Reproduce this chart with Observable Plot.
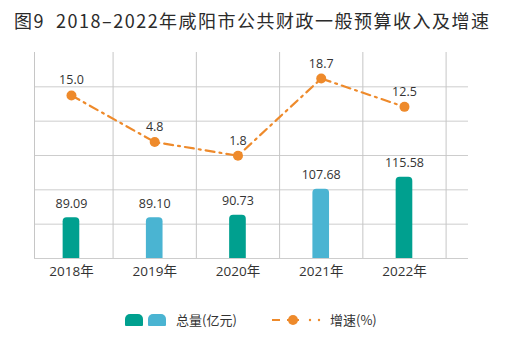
<!DOCTYPE html>
<html><head><meta charset="utf-8">
<script src="https://cdn.jsdelivr.net/npm/d3@7"></script>
<script src="https://cdn.jsdelivr.net/npm/@observablehq/plot@0.6"></script>
<style>
body{margin:0;width:506px;height:346px;background:#fff;position:relative;overflow:hidden;font-family:"Open Sans","Noto Sans CJK SC",sans-serif;color:#333}
#title{position:absolute;left:14px;top:0;height:40px;line-height:40px;font-family:"Noto Sans CJK SC",sans-serif;font-size:18px;font-weight:400;letter-spacing:1.5px;white-space:nowrap;color:#2b2b2b}
#chart{position:absolute;left:0;top:40px}
.lg{position:absolute}
.sq{top:314px;width:18px;height:12px;border-radius:5px 5px 1px 1px}
.lt{top:310px;height:20px;line-height:20px;font-size:13px;font-family:"Noto Sans CJK SC",sans-serif;color:#333;white-space:nowrap}
</style></head><body>
<div id="title">图9&nbsp;&nbsp;2018–2022年咸阳市公共财政一般预算收入及增速</div>
<div id="chart"></div>
<div id="legend"></div>
<script>
// ---- data ----
const years = [2018, 2019, 2020, 2021, 2022];
const yearLabels = ["2018年", "2019年", "2020年", "2021年", "2022年"];
const amounts = [89.09, 89.10, 90.73, 107.68, 115.58];   // 总量(亿元)
const growth = [15.0, 4.8, 1.8, 18.7, 12.5];              // 增速(%)
const seriesNames = ["总量(亿元)", "增速(%)"];

// ---- styles ----
const teal = "#00a08f", blue = "#4ab4d2", orange = "#ee8a2b";
const barColors = [teal, blue, teal, blue, teal];

const rows = years.map((y, i) => ({year: y, label: yearLabels[i], amount: amounts[i], growth: growth[i], color: barColors[i]}));

// dual-axis: both series mapped to a shared 0..6 grid
const amountToGrid = d3.scaleLinear().domain([62.5, 197.1]).range([0, 6]);
const growthToGrid = d3.scaleLinear().domain([-20.7, 24.4]).range([0, 6]);
const xDomain = [2017.556, 2022.769];

const chart = Plot.plot({
  width: 506, height: 256,
  marginTop: 12, marginBottom: 38, marginLeft: 34, marginRight: 38,
  x: {domain: xDomain, axis: null},
  y: {domain: [0, 6], axis: null},
  color: {type: "identity"},
  style: {fontFamily: '"Open Sans","Noto Sans CJK SC",sans-serif', color: "#333", background: "white", overflow: "visible"},
  marks: [
    Plot.ruleY(d3.range(0, 6), {stroke: "#cdcdcd", strokeWidth: 1}),
    Plot.ruleX([xDomain[0], ...years.map(y => y + 0.5)], {y1: 0, y2: 6, stroke: "#c6c6c6", strokeWidth: 1}),
    Plot.rect(rows, {x1: d => d.year - 0.1, x2: d => d.year + 0.1, y1: 0, y2: d => amountToGrid(d.amount), fill: "color", rx: 4, insetBottom: -6, clip: true}),
    Plot.text(rows, {x: "year", y: d => amountToGrid(d.amount), text: d => d.amount.toFixed(2), dy: -14, fontSize: 12.5, fill: "#333"}),
    Plot.line(rows, {x: "year", y: d => growthToGrid(d.growth), stroke: orange, strokeWidth: 2.2, strokeDasharray: "9,5,2,5"}),
    Plot.dot(rows, {x: "year", y: d => growthToGrid(d.growth), r: 5, fill: orange, stroke: "none"}),
    Plot.text(rows, {x: "year", y: d => growthToGrid(d.growth), text: d => d.growth.toFixed(1), dy: -15, fontSize: 12.5, fill: "#333"}),
    Plot.text(rows, {x: "year", text: "label", frameAnchor: "bottom", dy: 17, fontSize: 13.5, fill: "#333"})
  ]
});
document.getElementById("chart").appendChild(chart);

// ---- legend ----
const lg = document.getElementById("legend");
lg.innerHTML = `
<div class="lg sq" style="left:125px;background:${teal}"></div>
<div class="lg sq" style="left:148px;background:${blue}"></div>
<div class="lg lt" style="left:176px">${seriesNames[0]}</div>
<svg class="lg" style="left:268px;top:312px" width="56" height="16">
  <line x1="4" y1="8" x2="12" y2="8" stroke="${orange}" stroke-width="2"/>
  <line x1="19" y1="8" x2="31" y2="8" stroke="${orange}" stroke-width="2"/>
  <circle cx="25" cy="8" r="5" fill="${orange}"/>
  <circle cx="42" cy="8" r="1.2" fill="${orange}"/>
  <circle cx="51" cy="8" r="1.2" fill="${orange}"/>
</svg>
<div class="lg lt" style="left:330px">${seriesNames[1]}</div>`;
</script>
</body></html>
